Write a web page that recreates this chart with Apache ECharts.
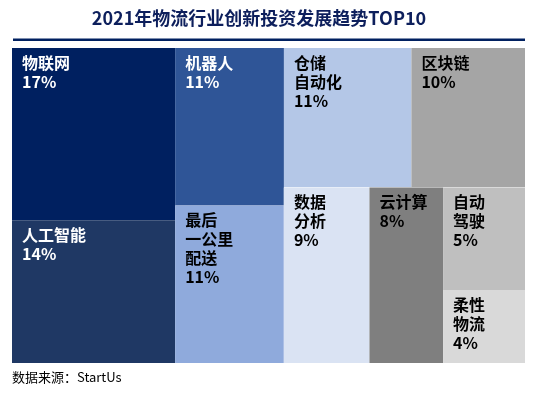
<!DOCTYPE html>
<html><head><meta charset="utf-8">
<script src="https://cdn.jsdelivr.net/npm/echarts@6/dist/echarts.min.js"></script>
<style>html,body{margin:0;padding:0;background:#fff}#c{width:538px;height:395px}</style>
</head><body><div id="c"></div>
<script>
// ---- data ----
const titleText = '2021年物流行业创新投资发展趋势TOP10';
const sourceText = '数据来源：StartUs';
const names = ['物联网', '人工智能', '机器人', '最后\n一公里\n配送', '仓储\n自动化', '区块链', '数据\n分析', '云计算', '自动\n驾驶', '柔性\n物流'];
const values = [17.4, 14.4, 10.6, 10.6, 11.0, 9.8, 9.3, 8.0, 5.2, 3.7];
// ---- styles ----
const colors = ['#002060', '#1f3864', '#2f5597', '#8faadc', '#b4c7e7', '#a5a5a5', '#dae3f3', '#7f7f7f', '#bfbfbf', '#d9d9d9'];
const labelColors = ['#fff', '#fff', '#fff', '#000', '#000', '#000', '#000', '#000', '#000', '#000'];
// grouping of the leaves (indices) to steer the squarified layout
const groups = [[[0, 1], [2, 3]], [4, 5, [[6, 7], [8, 9]]]];

function build(g) {
  if (typeof g === 'number') {
    return {
      name: names[g], value: values[g],
      itemStyle: { color: colors[g] },
      label: { color: labelColors[g] }
    };
  }
  return { name: '', children: g.map(build) };
}

const chart = echarts.init(document.getElementById('c'), null, { renderer: 'canvas' });
const font = "'Noto Sans CJK SC', 'Noto Sans', sans-serif";
chart.setOption({
  animation: false,
  backgroundColor: '#fff',
  title: [
    { text: titleText, left: 259, top: 9, textAlign: 'center', padding: 0,
      textStyle: { fontSize: 18, fontWeight: 'bold', color: '#0d1f5c', fontFamily: font } },
    { text: sourceText, left: 12, top: 371, padding: 0,
      textStyle: { fontSize: 13, fontWeight: 'normal', color: '#000', fontFamily: font } }
  ],
  graphic: [
    { type: 'rect', shape: { x: 13, y: 38.5, width: 512, height: 2.5 }, style: { fill: '#002060' } }
  ],
  series: [{
    type: 'treemap',
    left: 12, top: 48, width: 513, height: 315,
    roam: false, nodeClick: false, sort: false,
    breadcrumb: { show: false },
    itemStyle: { borderWidth: 0, gapWidth: 0 },
    upperLabel: { show: false },
    label: {
      show: true, position: [10, 5], padding: 0,
      fontSize: 16, fontWeight: 'bold', lineHeight: 19, fontFamily: font,
      formatter: p => p.name + '\n' + Math.round(p.value) + '%'
    },
    data: groups.map(build)
  }]
});
</script></body></html>
